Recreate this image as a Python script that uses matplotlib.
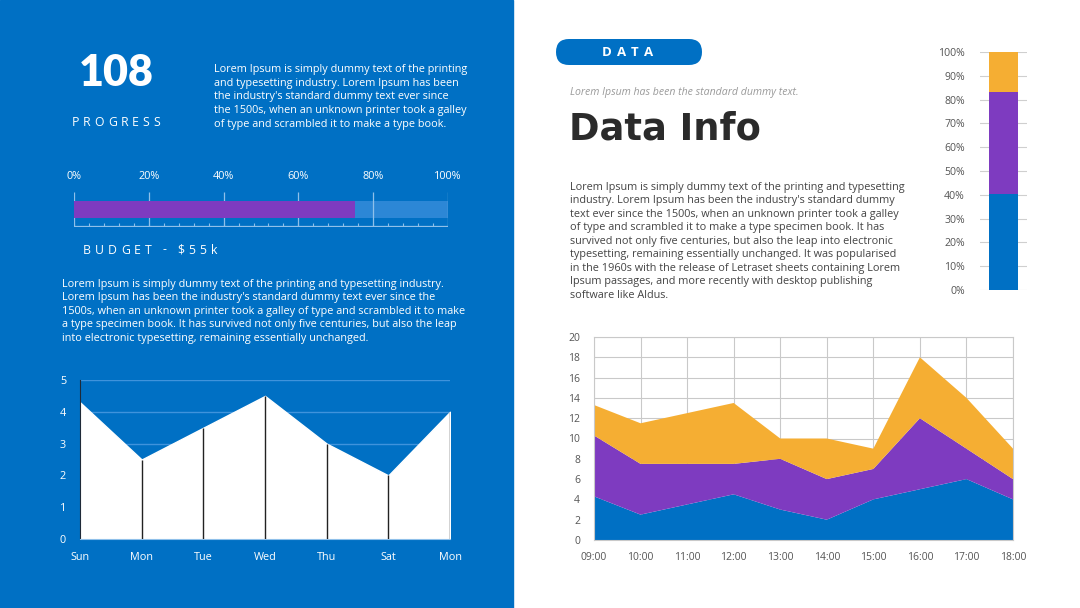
import matplotlib.pyplot as plt
from matplotlib.patches import Rectangle, FancyBboxPatch
import numpy as np

W, H = 1080, 608

# data
progress_value = 108
budget_pct = 75
week_days = ['Sun', 'Mon', 'Tue', 'Wed', 'Thu', 'Sat', 'Mon']
week_vals = [4.3, 2.5, 3.5, 4.5, 3.0, 2.0, 4.0]
share_vals = [40.5, 42.5, 17.0]
hours = ['09:00', '10:00', '11:00', '12:00', '13:00', '14:00', '15:00', '16:00', '17:00', '18:00']
blue_vals = [4.3, 2.5, 3.5, 4.5, 3.0, 2.0, 4.0, 5.0, 6.0, 4.0]
purple_vals = [6.0, 5.0, 4.0, 3.0, 5.0, 4.0, 3.0, 7.0, 3.0, 2.0]
orange_vals = [3.0, 4.0, 5.0, 6.0, 2.0, 4.0, 2.0, 6.0, 5.0, 3.0]

BLUE = '#0070C4'
PURPLE = '#7E3BC0'
ORANGE = '#F5AE33'
LIGHT = '#2C87D6'

plt.rcParams['font.family'] = ['Open Sans', 'DejaVu Sans']

para1 = ("Lorem Ipsum is simply dummy text of the printing\n"
         "and typesetting industry. Lorem Ipsum has been\n"
         "the industry's standard dummy text ever since\n"
         "the 1500s, when an unknown printer took a galley\n"
         "of type and scrambled it to make a type book.")
para2 = ("Lorem Ipsum is simply dummy text of the printing and typesetting industry.\n"
         "Lorem Ipsum has been the industry's standard dummy text ever since the\n"
         "1500s, when an unknown printer took a galley of type and scrambled it to make\n"
         "a type specimen book. It has survived not only five centuries, but also the leap\n"
         "into electronic typesetting, remaining essentially unchanged.")
para3 = ("Lorem Ipsum is simply dummy text of the printing and typesetting\n"
         "industry. Lorem Ipsum has been the industry's standard dummy\n"
         "text ever since the 1500s, when an unknown printer took a galley\n"
         "of type and scrambled it to make a type specimen book. It has\n"
         "survived not only five centuries, but also the leap into electronic\n"
         "typesetting, remaining essentially unchanged. It was popularised\n"
         "in the 1960s with the release of Letraset sheets containing Lorem\n"
         "Ipsum passages, and more recently with desktop publishing\n"
         "software like Aldus.")


def box(x0, y0, x1, y1):
    return [x0 / W, 1 - y1 / H, (x1 - x0) / W, (y1 - y0) / H]


fig = plt.figure(figsize=(W / 100, H / 100), dpi=100)
fig.patch.set_facecolor('white')

# background layer in pixel coordinates
bg = fig.add_axes([0, 0, 1, 1], zorder=0)
bg.set_xlim(0, W)
bg.set_ylim(H, 0)
bg.axis('off')
bg.add_patch(Rectangle((0, 0), 513, H, color=BLUE))

renderer = fig.canvas.get_renderer()


def tracked(x, y, s, width, **kw):
    # letter-spaced text stretched to a given pixel width
    texts, widths = [], []
    for ch in s:
        t = bg.text(x, y, ch, ha='left', va='center', **kw)
        texts.append(t)
        if ch == ' ':
            widths.append(kw.get('fontsize', 10) * 100 / 72 * 0.2)
        else:
            widths.append(t.get_window_extent(renderer).width)
    track = (width - sum(widths)) / (len(s) - 1)
    pos = x
    for t, w in zip(texts, widths):
        t.set_x(pos)
        pos += w + track


# left panel texts
bg.text(116, 73, str(progress_value), color='white', fontsize=31, fontweight='heavy',
        family=['Lato', 'DejaVu Sans'], ha='center', va='center')
tracked(72, 122, 'PROGRESS', 88, color='white', fontsize=8.8)
bg.text(214, 64, para1, color='white', fontsize=7.8, linespacing=1.33, va='top', ha='left')
tracked(83, 250, 'BUDGET - $55k', 134, color='white', fontsize=8.8)
bg.text(62, 279, para2, color='white', fontsize=7.8, linespacing=1.31, va='top', ha='left')

# right panel header
bg.add_patch(FancyBboxPatch((556, 39), 146, 26, boxstyle='round,pad=0,rounding_size=13',
                            color=BLUE, lw=0))
tracked(602, 52, 'DATA', 51, color='white', fontsize=9.5, fontweight='bold')
bg.text(570, 92, 'Lorem Ipsum has been the standard dummy text.', color='#9a9a9a',
        fontsize=7.6, style='italic', ha='left', va='center')
bg.text(569, 129, 'Data Info', color='#2b2b2b', fontsize=26.5, fontweight='bold',
        family=['DejaVu Sans'], ha='left', va='center')
bg.text(570, 182, para3, color='#444444', fontsize=7.8, linespacing=1.31, va='top', ha='left')

# progress bar
ax_p = fig.add_axes(box(74, 192, 448, 227), zorder=2)
ax_p.set_facecolor('none')
ax_p.set_xlim(0, 100)
ax_p.set_ylim(0, 1)
ax_p.barh(0.5, 100, height=0.46, color=LIGHT, zorder=1)
ax_p.vlines(np.arange(0, 101, 20), 0, 1, color='#8fc0ea', lw=0.9, zorder=2)
ax_p.barh(0.5, budget_pct, height=0.46, color=PURPLE, zorder=3)
ax_p.axhline(0.03, color='#8fc0ea', lw=0.9)
ax_p.vlines(np.arange(0, 101, 4), 0.03, 0.12, color='#8fc0ea', lw=0.8)
for s in ax_p.spines.values():
    s.set_visible(False)
ax_p.set_yticks([])
ax_p.xaxis.tick_top()
ax_p.set_xticks(np.arange(0, 101, 20))
ax_p.set_xticklabels([f'{v}%' for v in range(0, 101, 20)])
ax_p.tick_params(axis='x', length=0, colors='white', labelsize=7.8, pad=7)

# left area chart
ax_l = fig.add_axes(box(80, 380, 450, 539), zorder=2)
ax_l.set_facecolor('none')
x_l = np.arange(len(week_days))
ax_l.set_xlim(0, len(week_days) - 1)
ax_l.set_ylim(0, 5)
ax_l.set_yticks(range(0, 6))
ax_l.grid(axis='y', color='#3f93dc', lw=1)
ax_l.set_axisbelow(True)
ax_l.fill_between(x_l, week_vals, color='white', zorder=2)
ax_l.vlines(x_l[1:], 0, week_vals[1:], color='#222222', lw=1, zorder=3)
ax_l.set_xticks(x_l)
ax_l.set_xticklabels(week_days)
for s in ['top', 'right']:
    ax_l.spines[s].set_visible(False)
ax_l.spines['left'].set_color('#1f2a38')
ax_l.spines['bottom'].set_color('#8fc0ea')
ax_l.tick_params(length=0, colors='white', labelsize=7.8)
ax_l.tick_params(axis='x', pad=9)
ax_l.tick_params(axis='y', pad=10)

# stacked 100% bar
ax_s = fig.add_axes(box(980, 52, 1027, 290), zorder=2)
ax_s.set_xlim(-0.5, 0.5)
ax_s.set_ylim(0, 100)
bottom = 0
for v, c in zip(share_vals, [BLUE, PURPLE, ORANGE]):
    ax_s.bar(0, v, bottom=bottom, width=0.6, color=c, zorder=2)
    bottom += v
ax_s.set_yticks(range(0, 101, 10))
ax_s.set_yticklabels([f'{v}%' for v in range(0, 101, 10)])
ax_s.grid(axis='y', color='#cfcfcf', lw=0.8)
ax_s.set_axisbelow(True)
ax_s.set_xticks([])
for s in ax_s.spines.values():
    s.set_visible(False)
ax_s.tick_params(length=0, colors='#555555', labelsize=7.6, pad=11)

# bottom right stacked area chart
ax_a = fig.add_axes(box(594, 337, 1013, 540), zorder=2)
x_a = np.arange(len(hours))
ax_a.stackplot(x_a, blue_vals, purple_vals, orange_vals,
               colors=[BLUE, PURPLE, ORANGE], lw=0, zorder=2)
ax_a.set_xlim(0, len(hours) - 1)
ax_a.set_ylim(0, 20)
ax_a.set_xticks(x_a)
ax_a.set_xticklabels(hours)
ax_a.set_yticks(range(0, 21, 2))
ax_a.grid(color='#c9c9c9', lw=0.8)
ax_a.set_axisbelow(True)
for s in ax_a.spines.values():
    s.set_color('#c9c9c9')
    s.set_linewidth(0.8)
ax_a.tick_params(length=0, colors='#555555', labelsize=7.5)
ax_a.tick_params(axis='x', pad=9)
ax_a.tick_params(axis='y', pad=10)

fig.savefig('out.png', dpi=100)
